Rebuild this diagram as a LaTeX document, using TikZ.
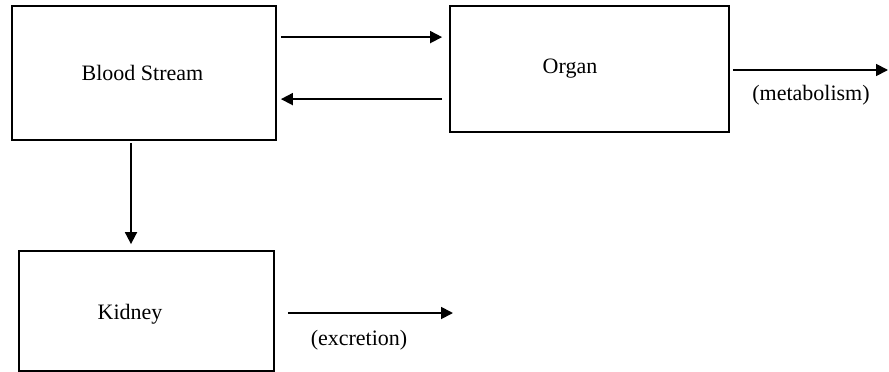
\documentclass[tikz,border=0pt]{standalone}
\usepackage{fontspec}
\setmainfont{Liberation Serif}
\usetikzlibrary{arrows.meta}
\begin{document}
\begin{tikzpicture}[x=1pt,y=-1pt,
  box/.style={draw, line width=1.8pt, rectangle, inner sep=0pt},
  txt/.style={font=\fontsize{22}{26}\selectfont, inner sep=0pt, anchor=base},
  arr/.style={line width=1.8pt, -{Triangle[length=12pt,width=12pt]}}]
  \useasboundingbox (0,0) rectangle (889,372);
  % compartments
  \node[box, minimum width=264pt, minimum height=134pt] (blood) at (144,73) {};
  \node[box, minimum width=279pt, minimum height=126pt] (organ) at (589.5,69) {};
  \node[box, minimum width=255pt, minimum height=120pt] (kidney) at (146.5,311) {};
  % labels
  \node[txt] (tblood) at (142.5,80) {Blood Stream};
  \node[txt] (torgan) at (570,73) {Organ};
  \node[txt] (tkidney) at (130,319) {Kidney};
  \node[txt] (tmet) at (811,100) {(metabolism)};
  \node[txt] (texc) at (359,345) {(excretion)};
  % free ends of the outflow arrows
  \coordinate (metend) at (888,70);
  \coordinate (excend) at (453,313);
  % exchange between blood and organ
  \draw[arr, shorten <=4pt, shorten >=7pt] ([yshift=-32pt]blood.north east) -- ([yshift=-32pt]organ.north west);
  \draw[arr, shorten <=7pt, shorten >=4pt] ([yshift=-94pt]organ.north west) -- ([yshift=-94pt]blood.north east);
  % blood to kidney
  \draw[arr, shorten <=2pt, shorten >=6pt] ([xshift=-13pt]blood.south) -- ([xshift=-15.5pt]kidney.north);
  % eliminations
  \draw[arr, shorten <=3pt] (organ.east |- metend) -- (metend);
  \draw[arr, shorten <=13pt] (kidney.east |- excend) -- (excend);
\end{tikzpicture}
\end{document}
